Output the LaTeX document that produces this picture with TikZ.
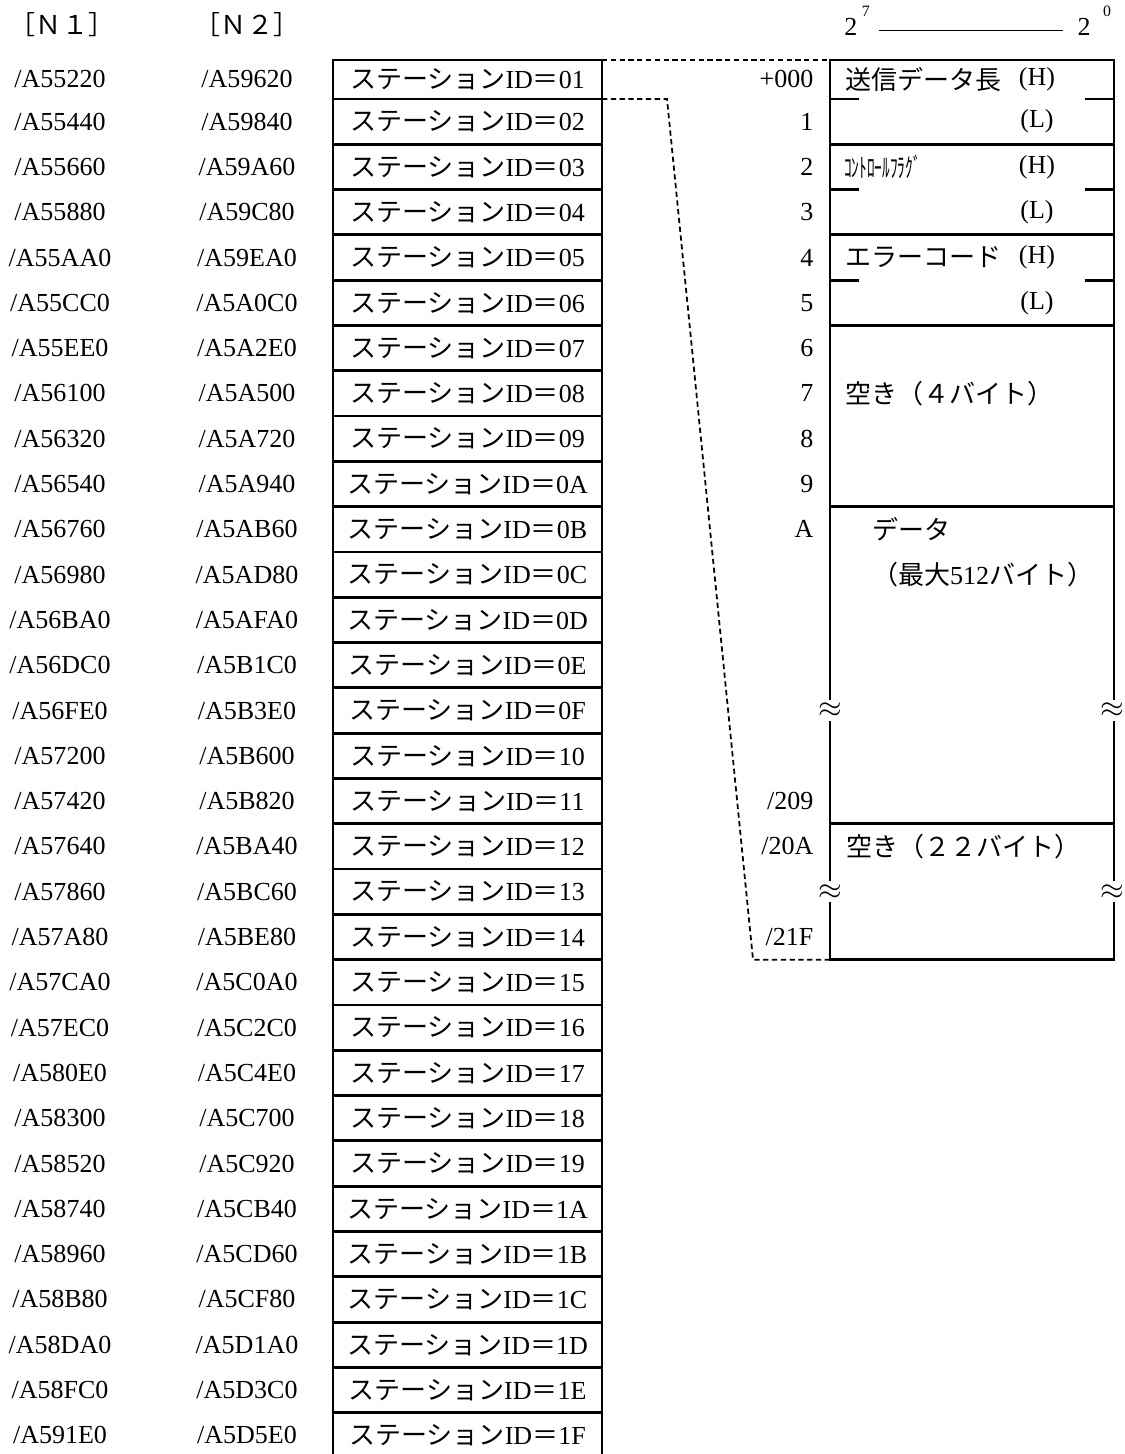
\documentclass[tikz,border=0pt]{standalone}
\usepackage{fontspec}
\setmainfont{Liberation Serif}
\newfontfamily\jpfont{Noto Sans CJK JP}

\begin{document}
\begin{tikzpicture}[every node/.style={font=\fontsize{14.8}{17}\selectfont, inner sep=1pt},
  cell/.style={draw, line width=1.6pt, outer sep=0pt, minimum width=5.38cm, anchor=north},
  offset/.style={anchor=east},
  field/.style={anchor=west},
  frame/.style={line width=1.6pt},
  link/.style={line width=1pt, dash pattern=on 3pt off 2pt},
  wave/.style={fill=white, inner sep=0pt, minimum height=0.42cm, font=\fontsize{16}{17}\selectfont}]
  \useasboundingbox (0,0) rectangle (22.5,29.08);

  % Headings
  \node (hdn1) at (1.24,28.58) {\jpfont ［Ｎ１］};
  \node (hdn2) at (4.94,28.58) {\jpfont ［Ｎ２］};

  % Station areas
  \foreach \id/\ytop/\h/\na/\nb in {
      01/27.880/0.78/A55220/A59620, 02/27.100/0.906/A55440/A59840,
      03/26.194/0.906/A55660/A59A60, 04/25.288/0.906/A55880/A59C80,
      05/24.382/0.906/A55AA0/A59EA0, 06/23.476/0.906/A55CC0/A5A0C0,
      07/22.570/0.906/A55EE0/A5A2E0, 08/21.664/0.906/A56100/A5A500,
      09/20.758/0.906/A56320/A5A720, 0A/19.852/0.906/A56540/A5A940,
      0B/18.946/0.906/A56760/A5AB60, 0C/18.040/0.906/A56980/A5AD80,
      0D/17.134/0.906/A56BA0/A5AFA0, 0E/16.228/0.906/A56DC0/A5B1C0,
      0F/15.322/0.906/A56FE0/A5B3E0, 10/14.416/0.906/A57200/A5B600,
      11/13.510/0.906/A57420/A5B820, 12/12.604/0.906/A57640/A5BA40,
      13/11.698/0.906/A57860/A5BC60, 14/10.792/0.906/A57A80/A5BE80,
      15/9.886/0.906/A57CA0/A5C0A0, 16/8.980/0.906/A57EC0/A5C2C0,
      17/8.074/0.906/A580E0/A5C4E0, 18/7.168/0.906/A58300/A5C700,
      19/6.262/0.906/A58520/A5C920, 1A/5.356/0.906/A58740/A5CB40,
      1B/4.450/0.906/A58960/A5CD60, 1C/3.544/0.906/A58B80/A5CF80,
      1D/2.638/0.906/A58DA0/A5D1A0, 1E/1.732/0.906/A58FC0/A5D3C0,
      1F/0.826/0.906/A591E0/A5D5E0} {
    \node[cell, minimum height=\h cm] (st\id) at (9.35,\ytop) {{\jpfont ステーション}ID{\jpfont ＝}\id};
    \node (na\id) at (1.20,0 |- st\id) {/\na};
    \node (nb\id) at (4.94,0 |- st\id) {/\nb};
  }

  % Offsets
  \node[offset] (of000) at (16.31,0 |- st01) {+000};
  \foreach \k/\r in {1/02, 2/03, 3/04, 4/05, 5/06, 6/07, 7/08, 8/09, 9/0A, A/0B}
    \node[offset] (of00\k) at (16.31,0 |- st\r) {\k};
  \node[offset] (of209) at (16.31,0 |- st11) {/209};
  \node[offset] (of20A) at (16.31,0 |- st12) {/20A};
  \node[offset] (of21F) at (16.31,0 |- st14) {/21F};

  % Frame
  \coordinate (frtl) at (16.60,27.88);
  \coordinate (frbr) at (22.28,9.886);
  \coordinate (frbl) at (frtl |- frbr);
  \draw[frame] (frtl) rectangle (frbr);
  \foreach \y in {26.194, 24.382, 22.570, 18.946, 12.604}
    \draw[frame] (16.60,\y) -- (22.28,\y);
  \foreach \y in {27.100, 25.288, 23.476} {
    \draw[frame] (16.60,\y) -- ++(0.58,0);
    \draw[frame] (22.28,\y) -- ++(-0.58,0);
  }

  % Fields
  \node[field] (fsize) at (16.86,0 |- st01) {\jpfont 送信データ長};
  \node (fsizeh) at (20.74,0 |- st01) {(H)};
  \node (fsizel) at (20.74,0 |- st02) {(L)};
  \node[field, font=\jpfont\fontsize{15}{16}\selectfont, xscale=0.58] (fctrl) at (16.86,0 |- st03) {ｺﾝﾄﾛｰﾙﾌﾗｸﾞ};
  \node (fctrlh) at (20.74,0 |- st03) {(H)};
  \node (fctrll) at (20.74,0 |- st04) {(L)};
  \node[field] (ferr) at (16.86,0 |- st05) {\jpfont エラーコード};
  \node (ferrh) at (20.74,0 |- st05) {(H)};
  \node (ferrl) at (20.74,0 |- st06) {(L)};
  \node[field] (fspare) at (16.86,0 |- st08) {\jpfont 空き（４バイト）};
  \node[field] (fdata) at (17.40,0 |- st0B) {\jpfont データ};
  \node[field] (fmax) at (17.40,0 |- st0C) {{\jpfont （最大}512{\jpfont バイト）}};
  \node[field] (fpad) at (16.88,0 |- st12) {\jpfont 空き（２２バイト）};

  % Breaks
  \foreach \r in {0F, 13} {
    \node[wave] (wl\r) at (frtl |- st\r) {$\approx$};
    \node[wave, xshift=-1pt] (wr\r) at (frbr |- st\r) {$\approx$};
  }

  % Bit order
  \node[anchor=base west] (bit7) at (16.845,28.36) {2\kern2.5pt\raisebox{11pt}{\fontsize{9}{10}\selectfont 7}};
  \node[anchor=base east] (bit0) at (22.26,28.36) {2\kern7pt\raisebox{11pt}{\fontsize{9}{10}\selectfont 0}};
  \draw[line width=1pt, shorten <=0.14cm, shorten >=0.26cm] ([yshift=0.11cm]bit7.base east) -- ([yshift=0.11cm]bit0.base west);

  % Links
  \draw[link] (st01.north east) -- (frtl);
  \draw[link] (st01.south east) -- ++(1.30,0) -- (15.06,9.886) -- (frbl);
\end{tikzpicture}
\end{document}
